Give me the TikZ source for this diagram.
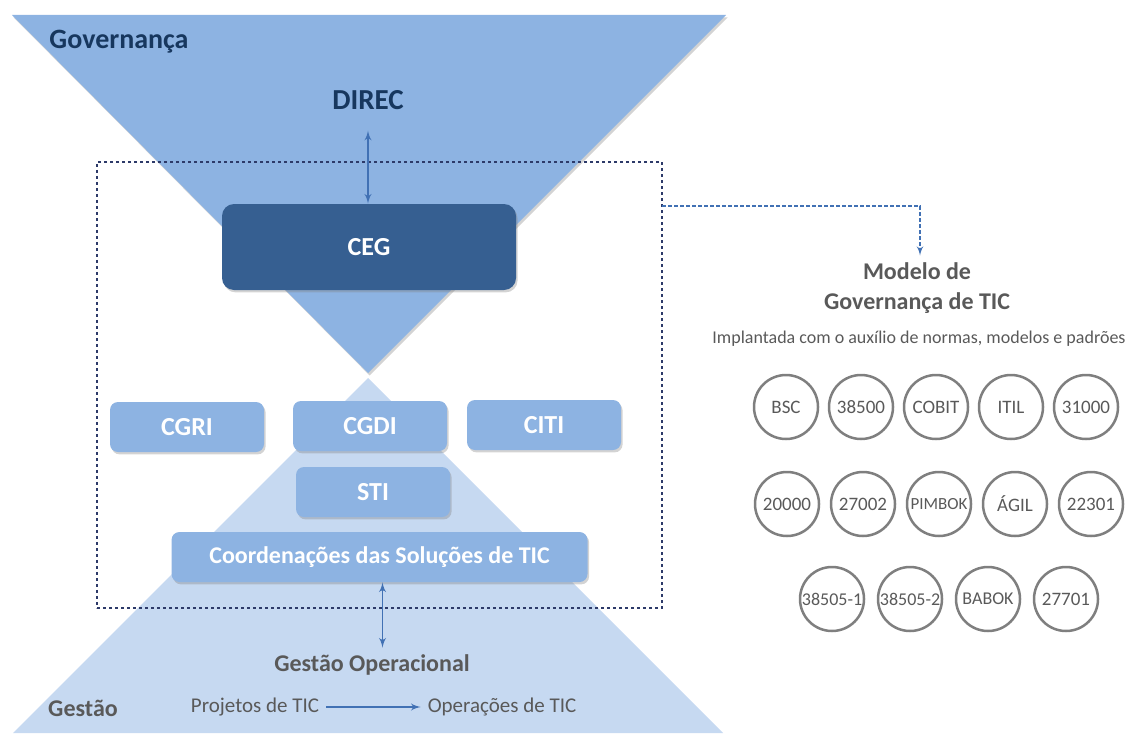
\documentclass[tikz,border=0pt]{standalone}
\usepackage{fontspec}
\setmainfont{Carlito}
\usepackage{tikz}
\usetikzlibrary{shapes,arrows,shadows}
\definecolor{azulclaro}{RGB}{141,179,226}
\definecolor{azulpalido}{RGB}{198,217,241}
\definecolor{azulescuro}{RGB}{54,95,145}
\definecolor{marinho}{RGB}{23,55,94}
\definecolor{cinza}{RGB}{89,89,89}
\definecolor{seta}{RGB}{65,113,180}
\definecolor{pontos}{RGB}{45,58,105}
\definecolor{aro}{RGB}{127,127,127}
\tikzstyle{sombra} = [drop shadow={shadow xshift=0.8pt, shadow yshift=-1.2pt, opacity=0.35}]
\tikzstyle{block} = [rectangle, rounded corners=4pt, fill=azulclaro, text=white, font=\fontsize{13}{15}\selectfont\bfseries, minimum width=77pt, minimum height=25pt, sombra]
\tikzstyle{cegbox} = [block, fill=azulescuro, rounded corners=6pt, minimum width=147pt, minimum height=43pt]
\tikzstyle{line} = [draw=seta, line width=0.7pt, -latex']
\tikzstyle{both} = [draw=seta, line width=0.7pt, latex'-latex']
\tikzstyle{dline} = [draw=seta, line width=0.6pt, dash pattern=on 2pt off 1pt, -latex']
\tikzstyle{frame} = [draw=pontos, line width=1.4pt, dash pattern=on 1.3pt off 1.7pt, minimum width=282.5pt, minimum height=223pt, inner sep=0pt]
\tikzstyle{norma} = [circle, draw=aro, line width=1.25pt, minimum size=32pt, inner sep=0pt, text=cinza, font=\fontsize{9.5}{11}\selectfont]
\tikzstyle{titulo} = [text=marinho, font=\fontsize{14}{16}\selectfont\bfseries]
\tikzstyle{rotulo} = [text=cinza, font=\fontsize{12}{15}\selectfont\bfseries]
\tikzstyle{texto} = [text=cinza, font=\fontsize{10.5}{13}\selectfont]

\begin{document}
\begin{tikzpicture}[x=0.5pt, y=-0.5pt, node distance=37.5pt]
    \useasboundingbox (0,0) rectangle (1128,733);

    % triangles
    \fill [azulpalido] (368,378) -- (723,733) -- (13,733) -- cycle;
    \fill [azulclaro, sombra] (12,15) -- (726,15) -- (368,373) -- cycle;

    \node [frame] (quadro) at (379.5,385) {};

    \node [titulo] (gov) at (119,42) {Governança};
    \node [titulo, font=\fontsize{14.5}{16}\selectfont\bfseries] (direc) at (368,100) {DIREC};
    \node [cegbox] (ceg) at (369,247) {CEG};
    \node [block] (cgri) at (187,427) {CGRI};
    \node [block] (cgdi) at (370,426) {CGDI};
    \node [block] (citi) at (544,425) {CITI};
    \node [block] (sti) at (373,492) {STI};
    \node [block, font=\fontsize{12}{14}\selectfont\bfseries, minimum width=208pt] (coord) at (379.5,557) {Coordenações das Soluções de TIC};

    \node [rotulo] (gop) at (372,665) {Gestão Operacional};
    \node [rotulo] (gestao) at (83,708) {Gestão};
    \node [texto] (proj) at (255,707) {Projetos de TIC};
    \node [texto] (oper) at (502,707) {Operações de TIC};

    \node [rotulo, align=center] (modelo) at (917,288) {Modelo de\\Governança de TIC};
    \node [texto, font=\fontsize{9}{11}\selectfont] (impl) at (919,339) {Implantada com o auxílio de normas, modelos e padrões};

    % normas
    \node [norma] (bsc) at (786,407) {BSC};
    \node [norma, right of=bsc] (n38500) {38500};
    \node [norma, right of=n38500] (cobit) {COBIT};
    \node [norma, right of=cobit] (itil) {ITIL};
    \node [norma, right of=itil] (n31000) {31000};
    \node [norma] (n20000) at (787,504) {20000};
    \node [norma, right of=n20000, node distance=38pt] (n27002) {27002};
    \node [norma, right of=n27002, node distance=38pt, font=\fontsize{8.5}{10}\selectfont] (pimbok) {PIMBOK};
    \node [norma, right of=pimbok, node distance=38pt] (agil) {ÁGIL};
    \node [norma, right of=agil, node distance=38pt] (n22301) {22301};
    \node [norma, font=\fontsize{9}{10}\selectfont] (n385051) at (832,599) {38505-1};
    \node [norma, right of=n385051, node distance=39pt, font=\fontsize{9}{10}\selectfont] (n385052) {38505-2};
    \node [norma, right of=n385052, node distance=39pt, font=\fontsize{9}{10}\selectfont] (babok) {BABOK};
    \node [norma, right of=babok, node distance=39pt] (n27701) {27701};

    \coordinate (saida) at (662,206);

    \path [both] ([yshift=-7pt]direc.south) -- (ceg.north -| direc.south);
    \path [both] ([xshift=1.5pt]coord.south) -- ([xshift=1.5pt]coord.south |- gop.north);
    \path [line] (proj) -- (oper);
    \path [dline] (saida) -| ([xshift=1.5pt]modelo.north);
  \end{tikzpicture}
\end{document}
